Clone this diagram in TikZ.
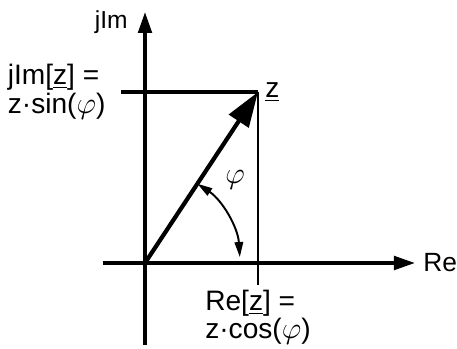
\documentclass[tikz,border=0pt]{standalone}
\usepackage{fontspec}
\setmainfont{Liberation Sans}
\usetikzlibrary{arrows.meta,positioning}

\begin{document}
\begin{tikzpicture}[
    every node/.style={font=\fontsize{16}{16.5}\selectfont, inner sep=0pt},
    axisline/.style={line width=2pt, -{Triangle[length=0.42cm,width=0.27cm]}},
    guide/.style={line width=2pt},
    thinguide/.style={line width=1.1pt},
    phasor/.style={line width=2.4pt, -{Triangle[length=0.7cm,width=0.46cm]}},
    anglearc/.style={line width=1.1pt,
      {Triangle[length=0.3cm,width=0.17cm]}-{Triangle[length=0.3cm,width=0.17cm]}}
  ]
  \useasboundingbox (-2.9,-1.72) rectangle (6.24,5.26);
  % axes and projections
  \coordinate (O) at (0,0);
  \coordinate (zt) at (2.26,3.42);
  \coordinate (xs) at (-0.84,0);
  \coordinate (xe) at (5.4,0);
  \coordinate (ys) at (0,-1.64);
  \coordinate (ye) at (0,5.02);
  \coordinate (ims) at (-0.48,3.42);
  \coordinate (ree) at (2.26,-0.44);
  \draw[axisline] (xs) -- (xe);
  \draw[axisline] (ys) -- (ye);
  \draw[guide] (ims) -- (zt);
  \draw[thinguide] (zt) -- (ree);
  \draw[phasor] (O) -- (zt);
  \draw[anglearc] (3.6:1.9) arc[start angle=3.6, end angle=56.5, radius=1.9];
  % labels
  \node[right=0.16cm of xe, font=\fontsize{15}{16}\selectfont] (relab) {Re};
  \node[anchor=base east, font=\fontsize{14}{16}\selectfont] (imlab) at (-0.34,4.69) {jIm};
  \node[right=0.14cm of zt] (zlab) {\underline{z}};
  \node (philab) at (1.8,1.66) {$\varphi$};
  \node[anchor=north west, align=left] (improj) at (-2.75,3.98)
    {jIm[\underline{z}] =\\z·sin($\varphi$)};
  \node[below=0.1cm of ree, align=left, font=\fontsize{16}{16}\selectfont] (reproj)
    {Re[\underline{z}] =\\z·cos($\varphi$)};
\end{tikzpicture}
\end{document}
